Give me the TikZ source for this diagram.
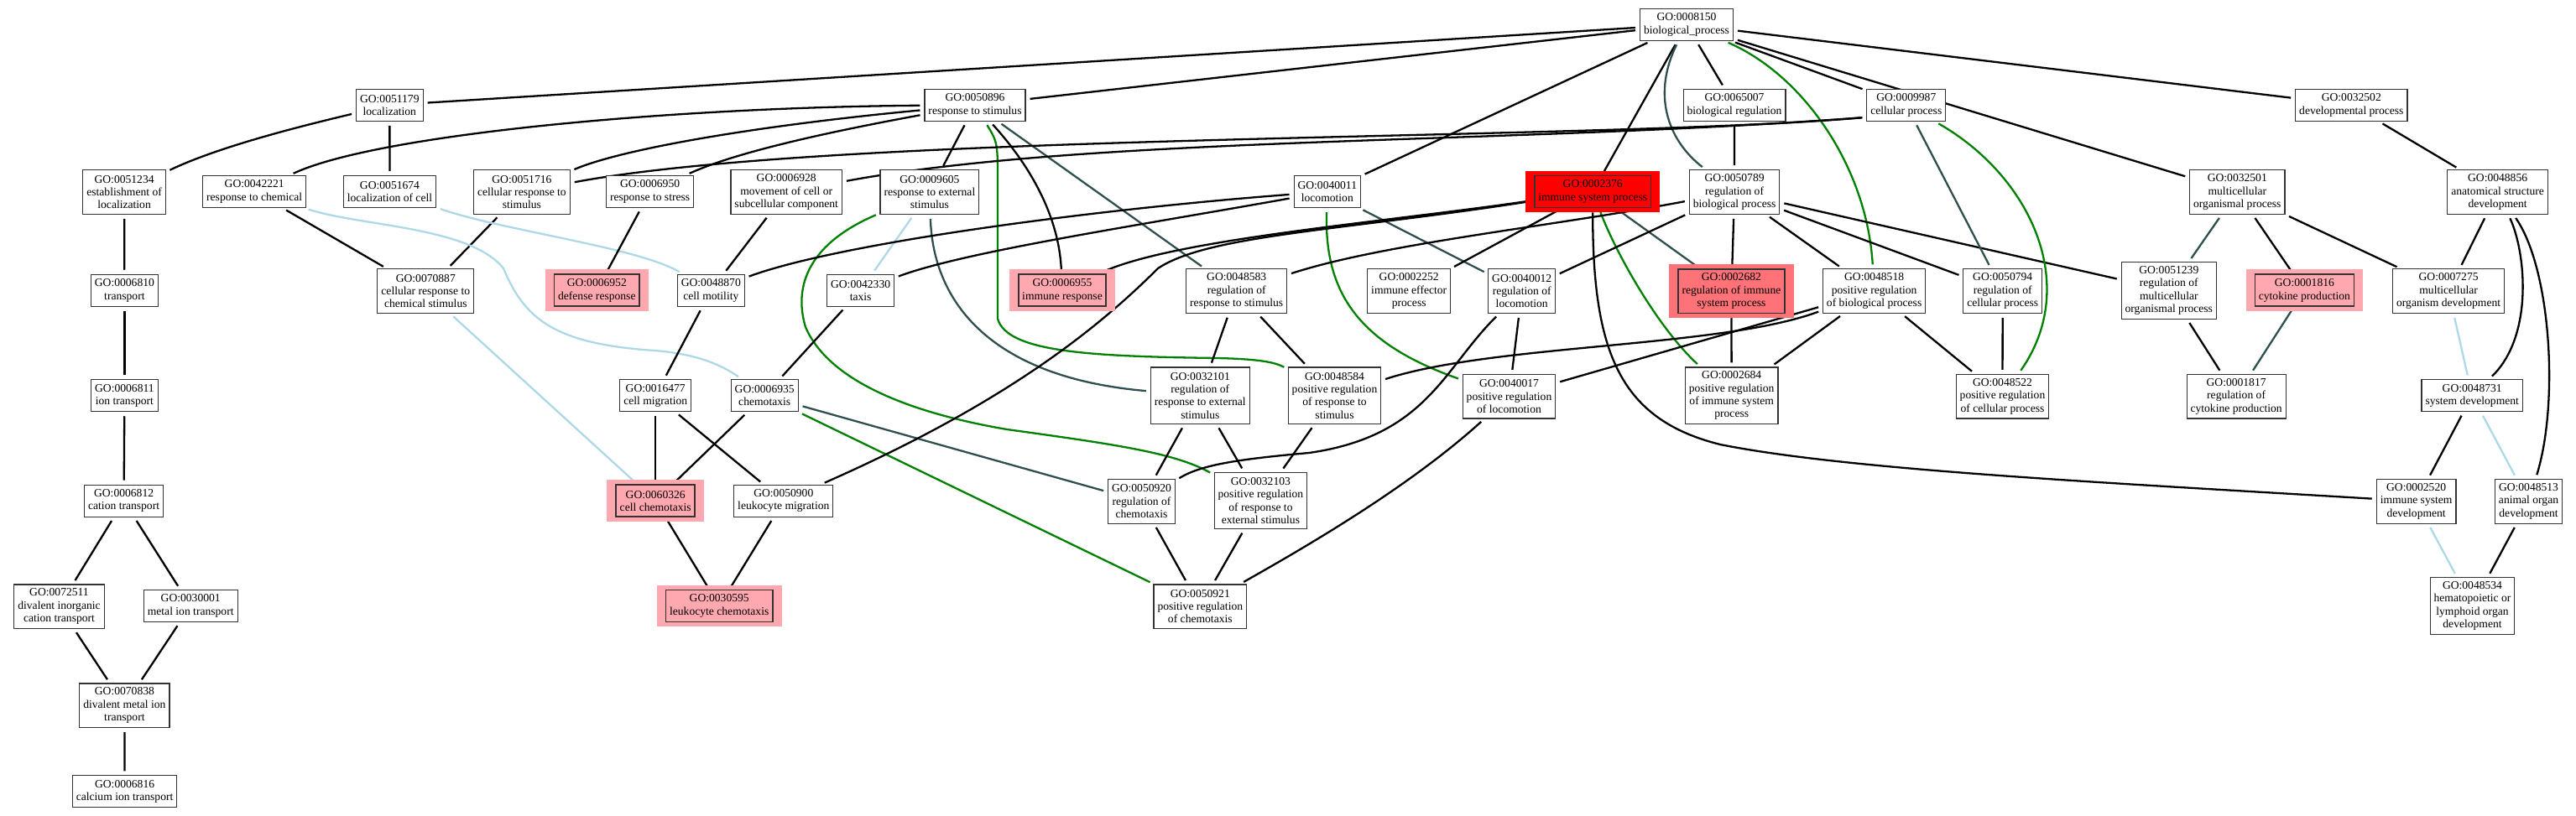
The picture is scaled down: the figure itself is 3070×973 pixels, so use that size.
\documentclass[tikz,border=0pt]{standalone}
\usepackage{fontspec}
\newfontfamily\gofont{Liberation Serif}
\usetikzlibrary{calc}
\definecolor{slate}{HTML}{2F4F4F}
\definecolor{fgreen}{HTML}{008000}
\definecolor{lblue}{HTML}{ADD8E6}
\definecolor{hotred}{HTML}{FF0000}
\definecolor{salmonred}{HTML}{FF7378}
\definecolor{softpink}{HTML}{FFA8B0}
\pgfdeclarelayer{edges}
\pgfdeclarelayer{frames}
\pgfsetlayers{edges,frames,main}
\tikzset{
  goterm/.style = {draw=black!80, line width=1.1pt, fill=white, align=center,
                   inner xsep=4.5pt, inner ysep=1pt, minimum height=38pt,
                   font=\gofont\fontsize{13.6}{15.3}\selectfont},
  tall/.style   = {minimum height=52.5pt},
  taller/.style = {minimum height=67.5pt},
  hit/.style    = {goterm, fill=#1, line width=1.6pt},
  isa/.style    = {line width=2.3pt, black, shorten <=5pt, shorten >=5pt},
  reg/.style    = {isa, draw=slate},
  posreg/.style = {isa, draw=fgreen},
  partof/.style = {isa, draw=lblue},
}
% coloured halo behind a highlighted term
\newcommand{\halo}[2]{%
  \fill[#2] ($(#1.south west)+(-10,5)$) rectangle ($(#1.north east)+(10,-5)$);}

\begin{document}
\begin{tikzpicture}[x=1pt, y=-1pt]
  \useasboundingbox (0,0) rectangle (3070,973);

  % row 0 and 1
  \node[goterm] (go0008150) at (2010,29.3) {GO:0008150\\biological\_process};
  \node[goterm] (go0051179) at (464.3,125.3) {GO:0051179\\localization};
  \node[goterm] (go0050896) at (1162,125.3) {GO:0050896\\response to stimulus};
  \node[goterm] (go0065007) at (2067,125.3) {GO:0065007\\biological regulation};
  \node[goterm] (go0009987) at (2271.8,125.3) {GO:0009987\\cellular process};
  \node[goterm] (go0032502) at (2802.3,125.3) {GO:0032502\\developmental process};

  % row 2
  \node[goterm, tall] (go0051234) at (148.1,229) {GO:0051234\\establishment of\\localization};
  \node[goterm] (go0042221) at (303.2,228.5) {GO:0042221\\response to chemical};
  \node[goterm] (go0051674) at (464.5,228.5) {GO:0051674\\localization of cell};
  \node[goterm, tall] (go0051716) at (621.9,229) {GO:0051716\\cellular response to\\stimulus};
  \node[goterm] (go0006950) at (774.6,228.5) {GO:0006950\\response to stress};
  \node[goterm, tall] (go0006928) at (937.2,229) {GO:0006928\\movement of cell or\\subcellular component};
  \node[goterm, tall] (go0009605) at (1107.9,229) {GO:0009605\\response to external\\stimulus};
  \node[goterm] (go0040011) at (1581.8,228.5) {GO:0040011\\locomotion};
  \node[hit=hotred] (go0002376) at (1898.2,228.5) {GO:0002376\\immune system process};
  \node[goterm, tall] (go0050789) at (2067.1,229) {GO:0050789\\regulation of\\biological process};
  \node[goterm, tall] (go0032501) at (2666.3,229) {GO:0032501\\multicellular\\organismal process};
  \node[goterm, tall] (go0048856) at (2976.6,229) {GO:0048856\\anatomical structure\\development};

  % row 3
  \node[goterm] (go0006810) at (148.4,346.3) {GO:0006810\\transport};
  \node[goterm, tall] (go0070887) at (507.3,347.2) {GO:0070887\\cellular response to\\chemical stimulus};
  \node[hit=softpink] (go0006952) at (711.3,346.3) {GO:0006952\\defense response};
  \node[goterm] (go0048870) at (847.3,346.3) {GO:0048870\\cell motility};
  \node[goterm] (go0042330) at (1025.6,346.3) {GO:0042330\\taxis};
  \node[hit=softpink] (go0006955) at (1266,346.3) {GO:0006955\\immune response};
  \node[goterm, tall] (go0048583) at (1473.7,347.2) {GO:0048583\\regulation of\\response to stimulus};
  \node[goterm, tall] (go0002252) at (1679.2,347.2) {GO:0002252\\immune effector\\process};
  \node[goterm, tall] (go0040012) at (1813.7,347.2) {GO:0040012\\regulation of\\locomotion};
  \node[hit=salmonred, tall] (go0002682) at (2063.4,347.2) {GO:0002682\\regulation of immune\\system process};
  \node[goterm, tall] (go0048518) at (2233.6,347.2) {GO:0048518\\positive regulation\\of biological process};
  \node[goterm, tall] (go0050794) at (2386.7,347.2) {GO:0050794\\regulation of\\cellular process};
  \node[goterm, taller] (go0051239) at (2584.8,346.5) {GO:0051239\\regulation of\\multicellular\\organismal process};
  \node[hit=softpink] (go0001816) at (2746.4,346.3) {GO:0001816\\cytokine production};
  \node[goterm, tall] (go0007275) at (2918.1,347.2) {GO:0007275\\multicellular\\organism development};

  % row 4
  \node[goterm] (go0006811) at (148.4,471.7) {GO:0006811\\ion transport};
  \node[goterm] (go0016477) at (781.2,471.7) {GO:0016477\\cell migration};
  \node[goterm] (go0006935) at (911.2,471.7) {GO:0006935\\chemotaxis};
  \node[goterm, taller] (go0032101) at (1430.3,471.7) {GO:0032101\\regulation of\\response to external\\stimulus};
  \node[goterm, taller] (go0048584) at (1590.5,471.7) {GO:0048584\\positive regulation\\of response to\\stimulus};
  \node[goterm, tall] (go0040017) at (1798.5,472.7) {GO:0040017\\positive regulation\\of locomotion};
  \node[goterm, taller] (go0002684) at (2063.7,471.7) {GO:0002684\\positive regulation\\of immune system\\process};
  \node[goterm, tall] (go0048522) at (2386.5,472.7) {GO:0048522\\positive regulation\\of cellular process};
  \node[goterm, tall] (go0001817) at (2665.1,472.7) {GO:0001817\\regulation of\\cytokine production};
  \node[goterm] (go0048731) at (2946.2,471.7) {GO:0048731\\system development};

  % row 5
  \node[goterm] (go0006812) at (147.6,597.2) {GO:0006812\\cation transport};
  \node[hit=softpink] (go0060326) at (781.2,597.2) {GO:0060326\\cell chemotaxis};
  \node[goterm] (go0050900) at (933.8,597.2) {GO:0050900\\leukocyte migration};
  \node[goterm, tall] (go0050920) at (1360.5,597.8) {GO:0050920\\regulation of\\chemotaxis};
  \node[goterm, taller] (go0032103) at (1502.4,597) {GO:0032103\\positive regulation\\of response to\\external stimulus};
  \node[goterm, tall] (go0002520) at (2879.6,597.8) {GO:0002520\\immune system\\development};
  \node[goterm, tall] (go0048513) at (3013.5,597.8) {GO:0048513\\animal organ\\development};

  % row 6 to 8
  \node[goterm, tall] (go0072511) at (70.5,723.2) {GO:0072511\\divalent inorganic\\cation transport};
  \node[goterm] (go0030001) at (227.2,722.5) {GO:0030001\\metal ion transport};
  \node[hit=softpink] (go0030595) at (857.2,722.5) {GO:0030595\\leukocyte chemotaxis};
  \node[goterm, tall] (go0050921) at (1430.3,723.2) {GO:0050921\\positive regulation\\of chemotaxis};
  \node[goterm, taller] (go0048534) at (2946.5,722.5) {GO:0048534\\hematopoietic or\\lymphoid organ\\development};
  \node[goterm, tall] (go0070838) at (148.4,841.2) {GO:0070838\\divalent metal ion\\transport};
  \node[goterm] (go0006816) at (148.6,943.8) {GO:0006816\\calcium ion transport};

  \begin{pgfonlayer}{frames}
    \halo{go0002376}{hotred}
    \halo{go0002682}{salmonred}
    \halo{go0006952}{softpink}
    \halo{go0006955}{softpink}
    \halo{go0001816}{softpink}
    \halo{go0060326}{softpink}
    \halo{go0030595}{softpink}
  \end{pgfonlayer}

  \begin{pgfonlayer}{edges}
    % from the root
    \draw[isa] (go0008150) -- (go0051179);
    \draw[isa] (go0008150) -- (go0050896);
    \draw[isa] (go0008150) -- (go0040011);
    \draw[isa] (go0008150) -- (go0002376);
    \draw[isa] (go0008150) -- (go0065007);
    \draw[isa] (go0008150) -- (go0009987);
    \draw[isa] (go0008150) -- (go0032501);
    \draw[isa] (go0008150) -- (go0032502);
    \draw[reg] (go0008150) .. controls (1970,110) and (1985,165) .. (go0050789);
    \draw[posreg] (go0008150) .. controls (2150,90) and (2225,200) .. (go0048518);

    % localization and transport
    \draw[isa] (go0051179) .. controls (360,150) and (260,175) .. (go0051234);
    \draw[isa] (go0051179) -- (go0051674);
    \draw[isa] (go0051234) -- (go0006810);
    \draw[isa] (go0006810) -- (go0006811);
    \draw[isa] (go0006811) -- (go0006812);
    \draw[isa] (go0006812) -- (go0072511);
    \draw[isa] (go0006812) -- (go0030001);
    \draw[isa] (go0072511) -- (go0070838);
    \draw[isa] (go0030001) -- (go0070838);
    \draw[isa] (go0070838) -- (go0006816);

    % response to stimulus
    \draw[isa] (go0050896) .. controls (800,128) and (450,160) .. (go0042221);
    \draw[isa] (go0050896) .. controls (900,150) and (740,178) .. (go0051716);
    \draw[isa] (go0050896) .. controls (1000,155) and (880,180) .. (go0006950);
    \draw[isa] (go0050896) -- (go0009605);
    \draw[isa] (go0050896) .. controls (1230,200) and (1262,260) .. (go0006955);
    \draw[reg] (go0050896) -- (go0048583);
    \draw[posreg] (go0050896) .. controls (1189,170) .. (1189,220) -- (1189,380)
      .. controls (1200,420) and (1300,425) .. (1450,427)
      .. controls (1500,428) and (1520,432) .. (go0048584);
    \draw[isa] (go0009987.197) .. controls (1900,168) and (1000,158) .. (go0051716);
    \draw[isa] (go0009987.197) .. controls (1800,172) and (1300,162) .. (go0006928);
    \draw[partof] (go0009605) -- (go0042330);
    \draw[reg] (go0009605) .. controls (1112,360) and (1180,450) .. (go0032101);
    \draw[posreg] (go0009605) .. controls (965,290) and (945,340) .. (960,390)
      .. controls (990,460) and (1100,495) .. (1200,512)
      .. controls (1330,530) and (1400,540) .. (go0032103);
    \draw[isa] (go0042221) -- (go0070887);
    \draw[isa] (go0051716) -- (go0070887);
    \draw[partof] (go0042221) .. controls (430,270) and (560,270) .. (600,320)
      .. controls (625,380) and (660,410) .. (780,418)
      .. controls (830,422) and (860,435) .. (go0006935);
    \draw[partof] (go0051674) .. controls (600,275) and (760,295) .. (go0048870);
    \draw[partof] (go0070887) -- (go0060326);
    \draw[isa] (go0006950) -- (go0006952);

    % locomotion and chemotaxis
    \draw[isa] (go0040011) .. controls (1300,250) and (1000,290) .. (go0048870);
    \draw[isa] (go0040011) .. controls (1350,270) and (1150,300) .. (go0042330);
    \draw[reg] (go0040011) -- (go0040012);
    \draw[posreg] (go0040011) .. controls (1578,350) and (1620,410) .. (go0040017);
    \draw[isa] (go0006928) -- (go0048870);
    \draw[isa] (go0048870) -- (go0016477);
    \draw[isa] (go0042330) -- (go0006935);
    \draw[isa] (go0016477) -- (go0060326);
    \draw[isa] (go0016477) -- (go0050900);
    \draw[isa] (go0006935) -- (go0060326);
    \draw[reg] (go0006935) -- (go0050920);
    \draw[posreg] (go0006935) -- (go0050921);
    \draw[isa] (go0060326) -- (go0030595);
    \draw[isa] (go0050900) -- (go0030595);

    % immune system process
    \draw[isa] (go0002376) .. controls (1650,265) and (1400,285) .. (go0006955);
    \draw[isa] (go0002376) .. controls (1600,275) and (1440,280) .. (1380,320)
      .. controls (1310,390) and (1200,480) .. (go0050900);
    \draw[isa] (go0002376) -- (go0002252);
    \draw[reg] (go0002376) -- (go0002682);
    \draw[posreg] (go0002376) .. controls (1925,300) and (1975,390) .. (go0002684);
    \draw[isa] (go0002376) .. controls (1898,420) and (1930,500) .. (2050,530)
      .. controls (2200,560) and (2500,575) .. (go0002520);

    % regulation
    \draw[isa] (go0065007) -- (go0050789);
    \draw[isa] (go0050789) .. controls (1850,270) and (1650,290) .. (go0048583);
    \draw[isa] (go0050789) -- (go0040012);
    \draw[isa] (go0050789) -- (go0002682);
    \draw[isa] (go0050789) -- (go0048518);
    \draw[isa] (go0050789) -- (go0050794);
    \draw[isa] (go0050789) -- (go0051239);
    \draw[reg] (go0009987) -- (go0050794);
    \draw[posreg] (go0009987) .. controls (2420,210) and (2480,340) .. (go0048522);
    \draw[isa] (go0048518) -- (go0048522);
    \draw[isa] (go0048518) -- (go0002684);
    \draw[isa] (go0048518) .. controls (2050,415) and (1780,410) .. (go0048584);
    \draw[isa] (go0048518) -- (go0040017);
    \draw[isa] (go0050794) -- (go0048522);
    \draw[isa] (go0002682) -- (go0002684);
    \draw[isa] (go0040012) -- (go0040017);
    \draw[isa] (go0040012) .. controls (1720,440) and (1700,520) .. (1560,540)
      .. controls (1470,548) and (1430,555) .. (go0050920);
    \draw[isa] (go0040017) .. controls (1680,580) and (1560,650) .. (go0050921);
    \draw[isa] (go0048583) -- (go0032101);
    \draw[isa] (go0048583) -- (go0048584);
    \draw[isa] (go0032101) -- (go0050920);
    \draw[isa] (go0032101) -- (go0032103);
    \draw[isa] (go0048584) -- (go0032103);
    \draw[isa] (go0050920) -- (go0050921);
    \draw[isa] (go0032103) -- (go0050921);

    % development and cytokines
    \draw[isa] (go0032502) -- (go0048856);
    \draw[reg] (go0032501) -- (go0051239);
    \draw[isa] (go0032501) -- (go0001816);
    \draw[isa] (go0032501) -- (go0007275);
    \draw[isa] (go0051239) -- (go0001817);
    \draw[reg] (go0001816) -- (go0001817);
    \draw[isa] (go0048856) -- (go0007275);
    \draw[isa] (go0048856) .. controls (3010,300) and (3020,400) .. (go0048731);
    \draw[isa] (go0048856) .. controls (3040,320) and (3050,480) .. (go0048513);
    \draw[partof] (go0007275) -- (go0048731);
    \draw[isa] (go0048731) -- (go0002520);
    \draw[partof] (go0048731) -- (go0048513);
    \draw[partof] (go0002520) -- (go0048534);
    \draw[isa] (go0048513) -- (go0048534);
  \end{pgfonlayer}
\end{tikzpicture}
\end{document}
